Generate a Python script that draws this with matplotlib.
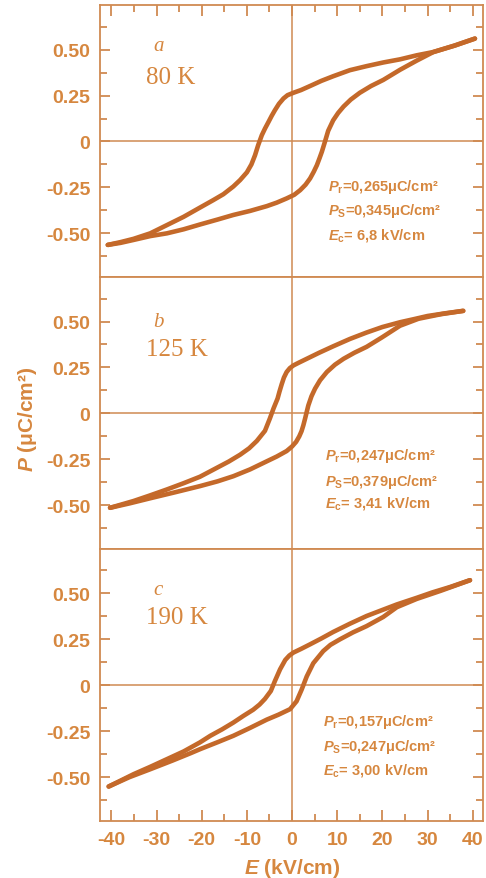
import numpy as np
import matplotlib
matplotlib.use('Agg')
import matplotlib.pyplot as plt
from matplotlib.ticker import MultipleLocator, FixedFormatter, FixedLocator

# 数据：电滞回线 (E, P)
# 80 K
e_up_a = [40.5, 36.0, 31.3, 27.6, 23.9, 20.2, 16.5, 12.8, 9.1, 6.5, 4.0, 2.0, 0.3, -1.0, -1.9, -2.9, -3.8, -4.5, -5.2, -6.0,
          -6.7, -7.5, -8.2, -9.0, -10.0, -11.5, -13.0, -15.2, -17.5, -20.4, -24.0, -27.7, -31.4, -35.1, -38.0, -40.8]
p_up_a = [0.56, 0.522, 0.487, 0.469, 0.447, 0.43, 0.41, 0.388, 0.355, 0.33, 0.302, 0.28, 0.265, 0.252, 0.234, 0.205, 0.17, 0.14, 0.107, 0.07,
          0.034, -0.02, -0.075, -0.125, -0.168, -0.21, -0.245, -0.287, -0.32, -0.36, -0.41, -0.455, -0.5, -0.53, -0.548, -0.563]
e_dn_a = [-40.8, -38.0, -35.1, -31.4, -27.7, -24.0, -20.4, -16.5, -13.0, -9.3, -5.6, -3.4, -1.2, 0.5, 1.8, 3.0, 4.0, 4.8, 5.5, 6.1,
          6.6, 7.3, 8.0, 9.1, 10.2, 11.4, 13.0, 15.0, 17.5, 20.2, 23.9, 27.6, 31.3, 36.0, 40.5]
p_dn_a = [-0.563, -0.552, -0.536, -0.515, -0.5, -0.478, -0.452, -0.425, -0.4, -0.378, -0.352, -0.333, -0.31, -0.29, -0.265, -0.235, -0.201, -0.165, -0.129, -0.09,
          -0.056, 0.0, 0.058, 0.115, 0.155, 0.19, 0.228, 0.265, 0.302, 0.335, 0.39, 0.44, 0.487, 0.522, 0.56]

# 125 K
e_up_b = [37.9, 34.0, 30.0, 27.0, 23.9, 20.0, 16.5, 12.8, 9.1, 6.0, 3.25, 1.5, 0.3, -0.5, -1.2, -1.8, -2.3, -2.8, -3.2, -4.1,
          -4.9, -6.0, -7.8, -9.5, -11.5, -14.0, -16.7, -20.4, -24.0, -27.7, -31.5, -35.1, -40.3]
p_up_b = [0.558, 0.545, 0.53, 0.513, 0.496, 0.47, 0.44, 0.405, 0.365, 0.33, 0.297, 0.276, 0.261, 0.246, 0.225, 0.195, 0.158, 0.117, 0.081, 0.027,
          -0.027, -0.095, -0.15, -0.19, -0.225, -0.262, -0.297, -0.345, -0.38, -0.414, -0.447, -0.477, -0.514]
e_dn_b = [-40.3, -36.0, -31.4, -26.0, -20.4, -16.5, -13.0, -9.3, -5.6, -3.4, -1.2, 0.0, 0.9, 1.6, 2.1, 2.5, 2.9, 3.6, 4.3, 5.1,
          6.2, 7.7, 9.5, 11.4, 13.8, 16.5, 20.0, 23.9, 28.0, 33.0, 37.9]
p_dn_b = [-0.514, -0.49, -0.462, -0.43, -0.396, -0.37, -0.342, -0.305, -0.261, -0.235, -0.205, -0.18, -0.155, -0.125, -0.097, -0.065, -0.027, 0.043, 0.093, 0.135,
          0.18, 0.225, 0.265, 0.297, 0.33, 0.362, 0.415, 0.477, 0.515, 0.54, 0.558]

# 190 K
e_up_c = [39.4, 35.0, 31.0, 27.6, 23.2, 20.0, 16.5, 12.8, 9.1, 6.5, 4.0, 2.0, 0.3, -0.6, -1.5, -2.65, -3.8, -4.7, -6.0, -7.2,
          -8.6, -10.8, -13.0, -15.5, -18.1, -20.4, -24.0, -27.7, -31.5, -35.1, -40.6]
p_up_c = [0.572, 0.535, 0.505, 0.476, 0.44, 0.41, 0.377, 0.335, 0.29, 0.255, 0.223, 0.198, 0.178, 0.162, 0.138, 0.087, 0.023, -0.031, -0.074, -0.105,
          -0.133, -0.167, -0.203, -0.24, -0.275, -0.311, -0.36, -0.402, -0.445, -0.484, -0.551]
e_dn_c = [-40.6, -36.0, -31.4, -26.5, -22.5, -20.4, -16.5, -13.0, -9.3, -5.6, -3.0, -0.44, 1.0, 2.1, 3.25, 4.7, 6.9, 8.5, 10.6, 13.5,
          16.5, 20.2, 23.2, 27.6, 33.0, 39.4]
p_dn_c = [-0.551, -0.5, -0.457, -0.41, -0.37, -0.348, -0.31, -0.275, -0.232, -0.187, -0.16, -0.13, -0.087, -0.025, 0.048, 0.12, 0.186, 0.22, 0.25, 0.288,
          0.322, 0.372, 0.425, 0.47, 0.515, 0.572]

temps = ['80 K', '125 K', '190 K']
letters = ['a', 'b', 'c']
pr_vals = ['0,265', '0,247', '0,157']
ps_vals = ['0,345', '0,379', '0,247']
ec_vals = ['6,8', '3,41', '3,00']

y_ticks = [0.5, 0.25, 0, -0.25, -0.5]
y_labels = ['0.50', '0.25', '0', '-0.25', '-0.50']
x_ticks = [-40, -30, -20, -10, 0, 10, 20, 30, 40]

curves = [(e_up_a, p_up_a, e_dn_a, p_dn_a),
          (e_up_b, p_up_b, e_dn_b, p_dn_b),
          (e_up_c, p_up_c, e_dn_c, p_dn_c)]

# 文字位置（数据坐标）
ann_x = [8.0, 7.3, 6.9]
ann_y = [(-0.245, -0.375, -0.505), (-0.225, -0.37, -0.486), (-0.194, -0.33, -0.457)]
let_y = [0.52, 0.50, 0.52]
tmp_y = [0.353, 0.35, 0.37]

line_c = '#C4692A'
text_c = '#D6873F'
axis_c = '#D08A52'

plt.rcParams['font.family'] = ['Liberation Sans', 'DejaVu Sans']
plt.rcParams['axes.unicode_minus'] = False
plt.rcParams['mathtext.fontset'] = 'custom'
plt.rcParams['mathtext.rm'] = 'Liberation Sans'
plt.rcParams['mathtext.it'] = 'Liberation Sans:italic'
plt.rcParams['mathtext.bf'] = 'Liberation Sans:bold'
plt.rcParams['mathtext.bfit'] = 'Liberation Sans:italic:bold'

fig = plt.figure(figsize=(4.86, 8.79), dpi=100)
gs = fig.add_gridspec(3, 1, left=0.206, right=0.994, top=0.993, bottom=0.065, hspace=0)

for i in range(3):
    ax = fig.add_subplot(gs[i])
    eu, pu, ed, pd_ = curves[i]
    ax.axhline(0, color=axis_c, lw=1.1, zorder=1)
    ax.axvline(0, color=axis_c, lw=1.1, zorder=1)
    ax.plot(eu, pu, color=line_c, lw=3.3, solid_joinstyle='round', solid_capstyle='round', zorder=3)
    ax.plot(ed, pd_, color=line_c, lw=3.3, solid_joinstyle='round', solid_capstyle='round', zorder=3)
    ax.set_xlim(-42.5, 42.3)
    ax.set_ylim(-0.738, 0.742)

    for s in ax.spines.values():
        s.set_color(axis_c)
        s.set_linewidth(1.3)

    ax.yaxis.set_major_locator(FixedLocator(y_ticks))
    ax.yaxis.set_major_formatter(FixedFormatter(y_labels))
    ax.yaxis.set_minor_locator(MultipleLocator(0.125))
    ax.xaxis.set_major_locator(FixedLocator(x_ticks))
    ax.xaxis.set_minor_locator(MultipleLocator(5))
    ax.tick_params(axis='y', which='both', direction='in', left=True, right=True, color=axis_c, width=1.3)
    ax.tick_params(axis='y', which='major', length=7, pad=7, labelsize=14, labelcolor=text_c)
    ax.tick_params(axis='y', which='minor', length=5)
    ax.tick_params(axis='x', which='both', direction='in', color=axis_c, width=1.3,
                   top=(i == 0), bottom=(i == 2), labelbottom=(i == 2))
    ax.tick_params(axis='x', which='major', length=8, pad=7, labelsize=14, labelcolor=text_c)
    ax.tick_params(axis='x', which='minor', length=5)
    for lab in ax.get_yticklabels() + ax.get_xticklabels():
        lab.set_fontweight('bold')

    ax.text(-30.7, let_y[i], letters[i], fontsize=15, style='italic', family='Liberation Serif',
            color=text_c, ha='left', va='center')
    ax.text(-32.3, tmp_y[i], temps[i], fontsize=18, family='Liberation Serif',
            color=text_c, ha='left', va='center')

    lines = [r'$\mathbfit{P}_{\mathbf{r}}$' + '=' + pr_vals[i] + 'μC/cm²',
             r'$\mathbfit{P}_{\mathbf{S}}$' + '=' + ps_vals[i] + 'μC/cm²',
             r'$\mathbfit{E}_{\mathbf{c}}$' + '= ' + ec_vals[i] + ' kV/cm']
    for k in range(3):
        ax.text(ann_x[i], ann_y[i][k], lines[k], fontsize=10.5, fontweight='bold', color=text_c,
                ha='left', va='center')

fig.text(0.056, 0.523, r'$\mathbfit{P}$' + ' (μC/cm²)', rotation=90, fontsize=15,
         fontweight='bold', color=text_c, ha='center', va='center')
fig.text(0.6, 0.0125, r'$\mathbfit{E}$' + ' (kV/cm)', fontsize=15, fontweight='bold',
         color=text_c, ha='center', va='center')

fig.savefig('out.png', dpi=100)
